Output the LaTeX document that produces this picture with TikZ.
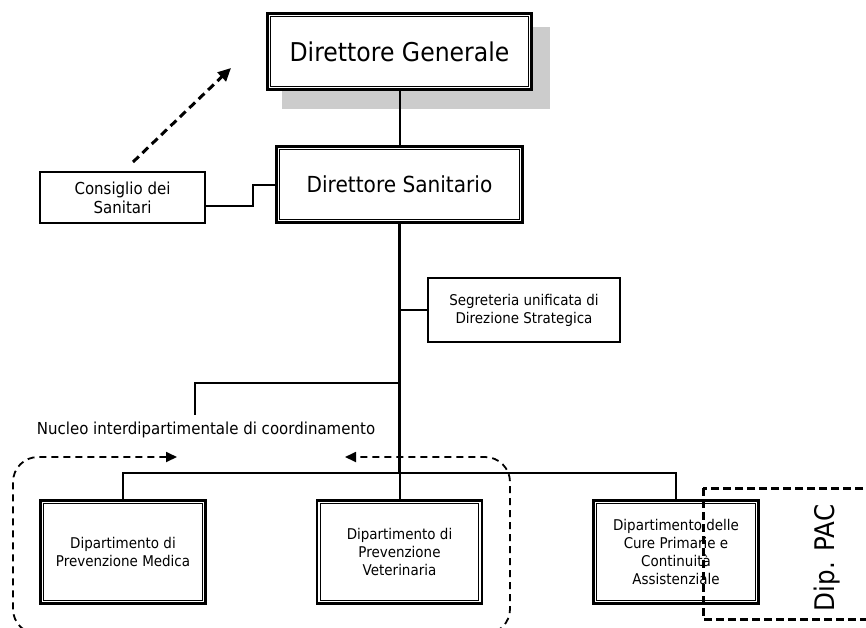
\documentclass[tikz,border=0pt]{standalone}
\usepackage{fontspec}
\setmainfont{DejaVu Sans}[FakeStretch=0.91]
\usetikzlibrary{arrows.meta}

\definecolor{shadowgray}{HTML}{CCCCCC}

\tikzset{
  % box with a heavy outer frame; the thin inner frame is added below
  dbox/.style={draw, line width=2.6pt, fill=white, inner sep=0pt, align=center},
  innerframe/.style={line width=1.1pt},
  sbox/.style={draw, line width=2pt, fill=white, inner sep=0pt, align=center},
  bigtxt/.style={font=\fontsize{25.9}{30}\selectfont},
  midtxt/.style={font=\fontsize{22.1}{26}\selectfont},
  labtxt/.style={font=\fontsize{16.5}{19}\selectfont},
  smalltxt/.style={font=\fontsize{14.8}{18}\selectfont},
  pactxt/.style={font=\fontsize{27}{30}\selectfont},
  dashedarrow/.style={line width=3pt, dash pattern=on 8pt off 5pt,
    -{Triangle[length=13pt,width=12pt]}},
  groupline/.style={line width=1.8pt, dash pattern=on 7pt off 5pt,
    rounded corners=25pt,
    {Triangle[length=11pt,width=10pt]}-{Triangle[length=11pt,width=10pt]}},
  pacline/.style={line width=3pt, dash pattern=on 8pt off 4pt},
}

\begin{document}
\begin{tikzpicture}[x=1pt, y=-1pt]
  \useasboundingbox (0,0) rectangle (866,627);
  \clip (0,0) rectangle (866,627);

  % drop shadow of the top box
  \fill[shadowgray] (282,27) rectangle (550,109);

  % junction points
  \coordinate (bus) at (399.5,473);
  \coordinate (nb) at (399.5,383);
  \coordinate (nbend) at (195,415);
  \coordinate (sj) at (399.5,310);
  \coordinate (cj) at (253,206);
  \coordinate (ca) at (133,162);
  \coordinate (cb) at (231,68);

  % boxes
  \node[dbox, minimum width=264pt, minimum height=76pt, bigtxt] (dg) at (399.5,51.5) {Direttore Generale};
  \node[dbox, minimum width=246pt, minimum height=76pt, midtxt] (ds) at (399.5,184.5) {Direttore Sanitario};
  \node[sbox, minimum width=165pt, minimum height=51pt, labtxt] (cons) at (122.5,197.5) {Consiglio dei\\Sanitari};
  \node[sbox, minimum width=192pt, minimum height=64pt, smalltxt] (segr) at (524,310) {Segreteria unificata di\\Direzione Strategica};
  \node[dbox, minimum width=165pt, minimum height=103pt, smalltxt] (d1) at (123,552) {Dipartimento di\\Prevenzione Medica};
  \node[dbox, minimum width=165pt, minimum height=103pt, smalltxt] (d2) at (399.5,552) {Dipartimento di\\Prevenzione\\Veterinaria};
  \node[dbox, minimum width=165pt, minimum height=103pt, smalltxt] (d3) at (676,552) {Dipartimento delle\\Cure Primarie e\\Continuità\\Assistenziale};

  % thin inner frames of the double-framed boxes
  \foreach \b in {dg,ds,d1,d2,d3}
    \draw[innerframe] ([xshift=4.5pt,yshift=-4.5pt]\b.north west) rectangle ([xshift=-4.5pt,yshift=4.5pt]\b.south east);

  % connectors
  \draw[line width=2pt] (dg.south) -- (ds.north);
  \draw[line width=3.3pt] (ds.south) -- (bus);
  \draw[line width=2pt] (bus) -- (d2.north);
  \draw[line width=2.2pt] (nb) -| (nbend);
  \draw[line width=1.4pt] (sj) -- (segr.west);
  \draw[line width=2pt] (cons.east |- cj) -- (cj) |- (ds.west);
  \draw[line width=2pt] (d1.north) |- (bus) -| (d3.north);

  % dashed arrow towards the top
  \draw[dashedarrow] (ca) -- (cb);

  % group of the two prevention departments
  \node[labtxt, anchor=base] (nucleo) at (206,434) {Nucleo interdipartimentale di coordinamento};
  \draw[groupline] (177,457) -- (13,457) -- (13,634) -- (510,634) -- (510,457) -- (345,457);

  % Dip. PAC frame
  \draw[pacline] (703,488) rectangle (880,619);
  \node[pactxt, rotate=90] (pac) at (827,558) {Dip. PAC};
\end{tikzpicture}
\end{document}
